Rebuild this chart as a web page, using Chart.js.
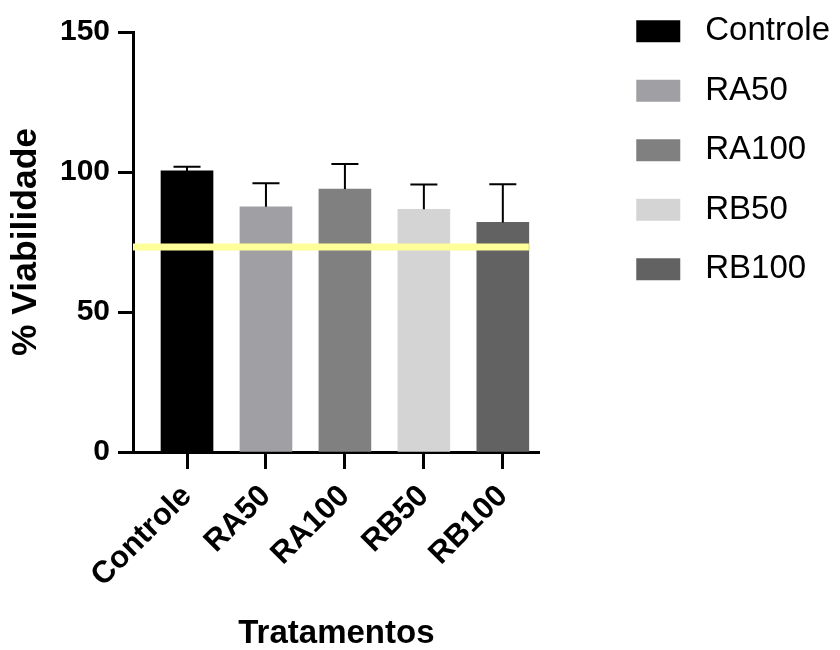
<!DOCTYPE html>
<html>
<head>
<meta charset="utf-8">
<script src="https://cdn.jsdelivr.net/npm/chart.js@4.4.1/dist/chart.umd.min.js"></script>
<style>
  html, body { margin: 0; padding: 0; background: #fff; }
  #wrap { width: 840px; height: 650px; position: relative; }
</style>
</head>
<body>
<div id="wrap"><canvas id="viabChart" width="840" height="650"></canvas></div>
<script>
const categories = ["Controle", "RA50", "RA100", "RB50", "RB100"];
const means = [100.4, 87.6, 93.9, 86.7, 82.0];
const sds = [1.5, 8.4, 9.0, 8.8, 13.6];
const barColors = ["#000000", "#a0a0a4", "#808080", "#d4d4d4", "#626262"];
const yTicks = [0, 50, 100, 150];
const cutoff = 73.2;
const cutoffSpan = [-0.684, 4.33];

const FONT = "'Liberation Sans', Arial, sans-serif";

// up-only error bars (mean + SD) with a cap
const errorBars = {
  id: 'errorBars',
  afterDatasetsDraw(chart) {
    const ctx = chart.ctx;
    const y = chart.scales.y;
    ctx.save();
    ctx.strokeStyle = '#000';
    ctx.lineWidth = 2;
    categories.forEach((c, i) => {
      const bar = chart.getDatasetMeta(i).data[0];
      const top = y.getPixelForValue(means[i] + sds[i]);
      const half = bar.width * 0.26;
      ctx.beginPath();
      ctx.moveTo(bar.x, bar.y);
      ctx.lineTo(bar.x, top);
      ctx.moveTo(bar.x - half, top);
      ctx.lineTo(bar.x + half, top);
      ctx.stroke();
    });
    ctx.restore();
  }
};

const datasets = categories.map((c, i) => ({
  label: c,
  data: [{x: i, y: means[i]}],
  backgroundColor: barColors[i],
  borderWidth: 0,
  barThickness: 52,
  grouped: false,
  order: 2
}));
datasets.push({
  type: 'line',
  label: 'cutoff',
  data: cutoffSpan.map(x => ({x: x, y: cutoff})),
  borderColor: '#ffff99',
  borderWidth: 7,
  borderCapStyle: 'butt',
  pointRadius: 0,
  order: 1
});

const chart = new Chart(document.getElementById('viabChart'), {
  type: 'bar',
  data: { datasets: datasets },
  options: {
    responsive: false,
    animation: false,
    layout: { padding: { top: 14, left: 0, right: 0, bottom: 0 } },
    scales: {
      x: {
        type: 'linear',
        min: -0.684,
        max: 4.468,
        offset: false,
        z: 1,
        afterBuildTicks: s => { s.ticks = categories.map((c, i) => ({value: i})); },
        afterFit: s => { s.height = 198; },
        ticks: {
          autoSkip: false, minRotation: 45, maxRotation: 45, padding: 9,
          color: '#000', font: {family: FONT, size: 31, weight: 'bold'},
          callback: v => categories[v]
        },
        grid: { drawOnChartArea: false, offset: false, tickLength: 17, tickWidth: 3, tickColor: '#000' },
        border: { color: '#000', width: 3 },
        title: { display: true, text: 'Tratamentos', color: '#000',
                 font: {family: FONT, size: 33, weight: 'bold', lineHeight: 1}, padding: {top: 0, bottom: 0} }
      },
      y: {
        min: 0,
        max: 150,
        afterBuildTicks: s => { s.ticks = yTicks.map(v => ({value: v})); },
        afterFit: s => { s.width = 133; s.paddingTop = 32; },
        ticks: { padding: 8, color: '#000', font: {family: FONT, size: 30, weight: 'bold'} },
        grid: { drawOnChartArea: false, tickLength: 15, tickWidth: 3, tickColor: '#000' },
        border: { color: '#000', width: 3 },
        title: { display: true, text: '% Viabilidade', color: '#000',
                 font: {family: FONT, size: 35.5, weight: 'bold'}, padding: {top: 5, bottom: 0} }
      },
      gap: {
        type: 'linear',
        position: 'right',
        grid: { display: false },
        border: { display: false },
        ticks: { display: false },
        afterFit: s => { s.width = 67.5; }
      }
    },
    plugins: {
      tooltip: { enabled: false },
      legend: {
        position: 'right',
        align: 'start',
        maxWidth: 260,
        title: { display: true, text: '', font: {size: 1}, padding: {top: -24, bottom: 0} },
        labels: {
          boxWidth: 61,
          boxHeight: 39,
          padding: 20.5,
          color: '#000',
          font: {family: FONT, size: 33},
          filter: item => item.text !== 'cutoff',
          generateLabels: ch => Chart.defaults.plugins.legend.labels.generateLabels(ch)
            .map(it => Object.assign(it, {strokeStyle: '#fff', lineWidth: 17}))
        }
      }
    }
  },
  plugins: [errorBars]
});
</script>
</body>
</html>
